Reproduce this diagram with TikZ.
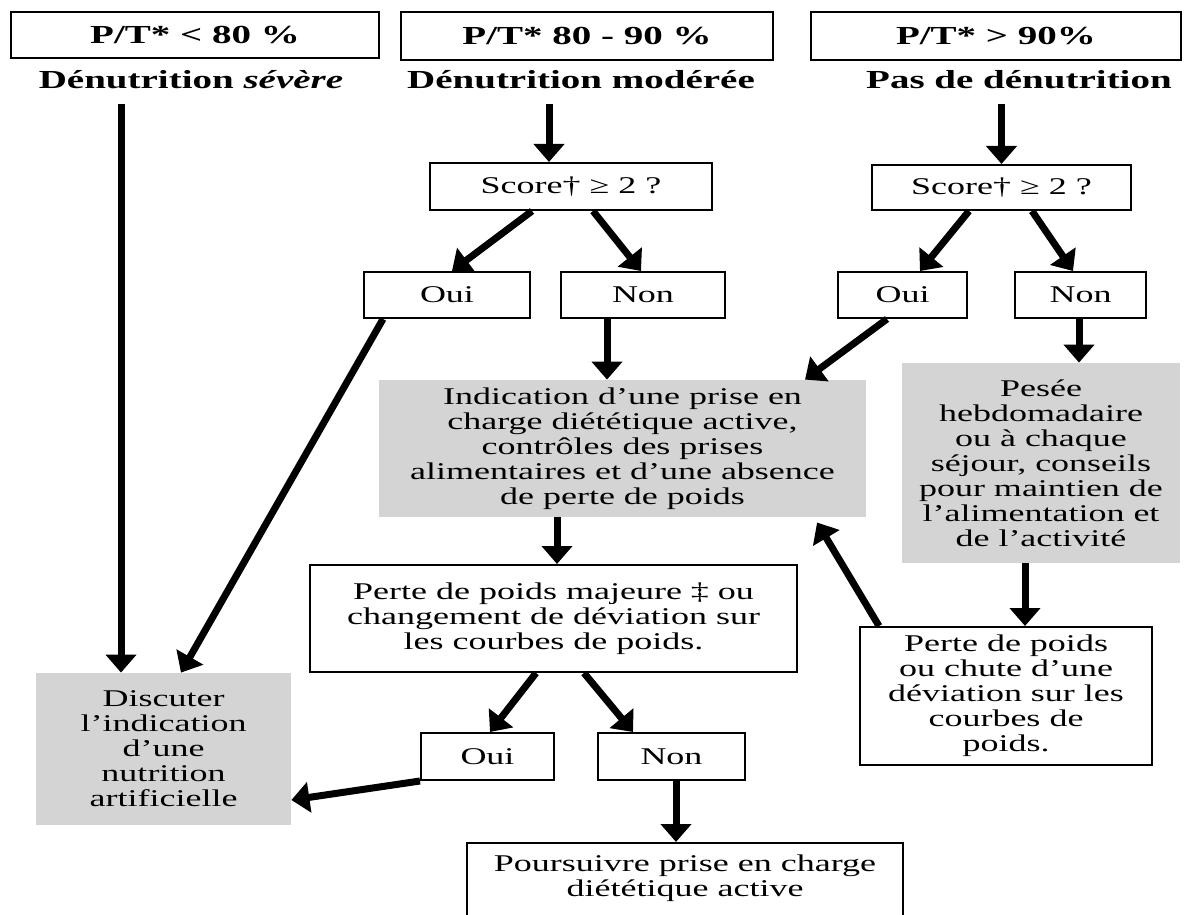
\documentclass[tikz,border=0pt]{standalone}
\usepackage{fontspec}
\setmainfont{Liberation Serif}[FakeStretch=1.5]
\usetikzlibrary{arrows.meta}

\begin{document}
\begin{tikzpicture}[x=0.5pt,y=-0.5pt,
		box/.style={draw, line width=1pt, inner sep=0pt, align=center, font=\fontsize{12}{12.5}\selectfont},
		headbox/.style={box, font=\fontsize{13}{14}\selectfont\bfseries},
		grey/.style={fill=black!17, inner sep=0pt, align=center, font=\fontsize{12}{12.5}\selectfont},
		head/.style={inner sep=0pt, font=\fontsize{13}{14}\selectfont\bfseries},
		arr/.style={line width=3.5pt, -{Triangle[width=15pt,length=9pt]}}]
		\useasboundingbox (0,0) rectangle (1184,915);
		\clip (0,0) rectangle (1184,915);
		% haut
		\node[headbox, minimum width=184pt, minimum height=23pt] (pt1) at (195,35) {P/T* < 80 \%};
		\node[headbox, minimum width=186pt, minimum height=24pt] (pt2) at (587,36) {P/T* 80 - 90 \%};
		\node[headbox, minimum width=185pt, minimum height=24pt] (pt3) at (996,36) {P/T* > 90\%};
		\node[head] (lab1) at (191,80) {Dénutrition \textit{sévère}};
		\node[head] (lab2) at (581,80) {Dénutrition modérée};
		\node[head] (lab3) at (1019,80) {Pas de dénutrition};
		% scores
		\node[box, minimum width=141pt, minimum height=23.5pt] (score1) at (571,186.5) {Score† ≥ 2 ?};
		\node[box, minimum width=129.5pt, minimum height=22.5pt] (score2) at (1001.5,187.5) {Score† ≥ 2 ?};
		\node[box, minimum width=83pt, minimum height=23pt] (oui1) at (447,295) {Oui};
		\node[box, minimum width=82pt, minimum height=23pt] (non1) at (643,295) {Non};
		\node[box, minimum width=64.5pt, minimum height=23pt] (oui2) at (902.5,295) {Oui};
		\node[box, minimum width=65.5pt, minimum height=23pt] (non2) at (1080.5,295) {Non};
		% milieu
		\node[grey, minimum width=243.5pt, minimum height=68.5pt] (indic) at (622.5,448.5) {Indication d’une prise en\\charge diététique active,\\contrôles des prises\\alimentaires et d’une absence\\de perte de poids};
		\node[grey, minimum width=139pt, minimum height=100pt] (pesee) at (1041,463) {Pesée\\hebdomadaire\\ou à chaque\\séjour, conseils\\pour maintien de\\l’alimentation et\\de l’activité};
		\node[box, minimum width=243.5pt, minimum height=53.5pt] (majeure) at (553.5,618.5) {Perte de poids majeure ‡ ou\\changement de déviation sur\\les courbes de poids.};
		\node[box, minimum width=146pt, minimum height=69pt] (perte) at (1006,696) {Perte de poids\\ou chute d’une\\déviation sur les\\courbes de\\poids.};
		% bas
		\node[grey, minimum width=127.5pt, minimum height=76pt] (disc) at (163.5,749) {Discuter\\l’indication\\d’une\\nutrition\\artificielle};
		\node[box, minimum width=66.5pt, minimum height=23.5pt] (oui3) at (487.5,756.5) {Oui};
		\node[box, minimum width=73.5pt, minimum height=23.5pt] (non3) at (671.5,756.5) {Non};
		\node[box, minimum width=218pt, minimum height=45pt] (pours) at (685,888) {Poursuivre prise en charge\\diététique active\\\mbox{}};
		% fleches
		\draw[arr, shorten <=7pt] (lab1.south -| 121,0) -- (disc.north -| 121,0);
		\draw[arr, shorten <=7pt] (lab2.south -| 549,0) -- (score1.north -| 549,0);
		\draw[arr, shorten <=7pt] (lab3.south -| score2.north) -- (score2.north);
		\draw[arr] (score1.south -| 532,0) -- (oui1.north -| 452,0);
		\draw[arr] (score1.south -| 593,0) -- (non1.north -| 641,0);
		\draw[arr] (score2.south -| 969,0) -- (oui2.north -| 920,0);
		\draw[arr] (score2.south -| 1032,0) -- (non2.north -| 1073,0);
		\draw[arr] (oui1.south -| 383,0) -- (disc.north -| 181,0);
		\draw[arr] (non1.south -| 607,0) -- (indic.north -| 607,0);
		\draw[arr] (oui2.south -| 887,0) -- (indic.north -| 805,0);
		\draw[arr] (non2.south -| 1079,0) -- (pesee.north -| 1079,0);
		\draw[arr] (indic.south -| 557,0) -- (majeure.north -| 557,0);
		\draw[arr] (pesee.south -| 1025,0) -- (perte.north -| 1025,0);
		\draw[arr, shorten >=3pt] (perte.north -| 879,0) -- (indic.south -| 814,0);
		\draw[arr] (majeure.south -| 536,0) -- (oui3.north -| 490,0);
		\draw[arr] (majeure.south -| 584,0) -- (non3.north -| 633,0);
		\draw[arr] (oui3.south west) -- (disc.east |- 0,800);
		\draw[arr] (non3.south -| 676,0) -- (pours.north -| 676,0);
	\end{tikzpicture}
\end{document}
